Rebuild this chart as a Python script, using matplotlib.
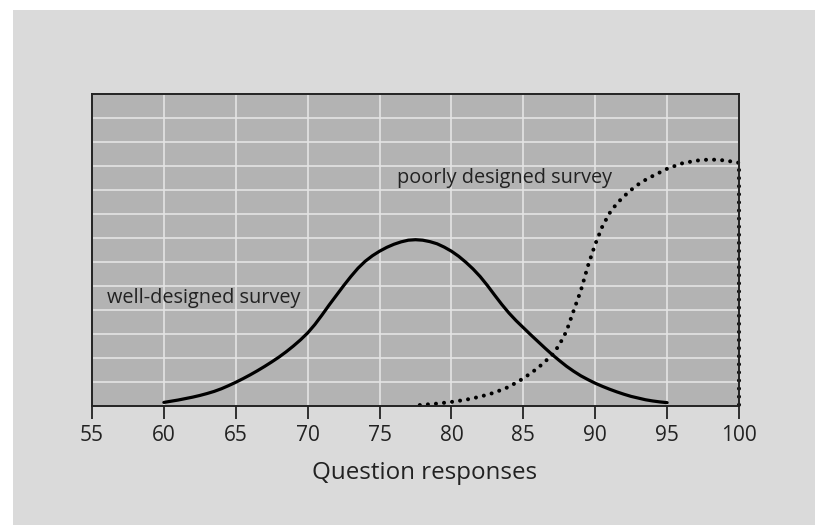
import matplotlib
matplotlib.use("Agg")
import matplotlib.pyplot as plt
from matplotlib.patches import Rectangle

plt.rcParams["font.family"] = ["Open Sans", "DejaVu Sans"]

# ── Data ────────────────────────────────────────────────────────────
well_x = [60, 60.5, 61, 61.5, 62, 62.5, 63, 63.5, 64, 64.5, 65, 65.5, 66,
          66.5, 67, 67.5, 68, 68.5, 69, 69.5, 70, 70.5, 71, 71.5, 72, 72.5,
          73, 73.5, 74, 74.5, 75, 75.5, 76, 76.5, 77, 77.5, 78, 78.5, 79,
          79.5, 80, 80.5, 81, 81.5, 82, 82.5, 83, 83.5, 84, 84.5, 85, 85.5,
          86, 86.5, 87, 87.5, 88, 88.5, 89, 89.5, 90, 90.5, 91, 91.5, 92,
          92.5, 93, 93.5, 94, 94.5, 95]
well_y = [0.15, 0.2, 0.25, 0.31, 0.37, 0.44, 0.52, 0.61, 0.72, 0.85, 0.99,
          1.14, 1.3, 1.47, 1.65, 1.84, 2.04, 2.26, 2.5, 2.76, 3.05, 3.4, 3.8,
          4.22, 4.62, 5.02, 5.4, 5.75, 6.04, 6.27, 6.46, 6.62, 6.75, 6.85,
          6.92, 6.94, 6.92, 6.86, 6.77, 6.63, 6.46, 6.25, 6.0, 5.72, 5.4,
          5.03, 4.63, 4.24, 3.88, 3.56, 3.27, 2.98, 2.7, 2.42, 2.15, 1.9,
          1.66, 1.45, 1.26, 1.1, 0.95, 0.82, 0.7, 0.59, 0.49, 0.4, 0.33,
          0.26, 0.21, 0.17, 0.14]

poor_x = [77.8, 79, 80, 81, 82, 83, 84, 85, 86, 87, 87.5, 88, 88.5, 89,
          89.5, 90, 90.5, 91, 91.5, 92, 92.5, 93, 93.5, 94, 95, 96, 97, 98,
          99, 99.5, 100, 100]
poor_y = [0.04, 0.1, 0.17, 0.26, 0.39, 0.56, 0.8, 1.15, 1.58, 2.12, 2.55,
          3.12, 3.98, 4.82, 5.86, 6.75, 7.5, 8.05, 8.45, 8.75, 9.02, 9.25,
          9.44, 9.6, 9.9, 10.12, 10.24, 10.29, 10.25, 10.2, 10.15, 0.0]

x_ticks = [55, 60, 65, 70, 75, 80, 85, 90, 95, 100]
y_grid = list(range(0, 14))

fig = plt.figure(figsize=(8.15, 5.25), dpi=100)
fig.patch.set_facecolor("white")
fig.patches.append(Rectangle((13 / 815, 0), 1 - 13 / 815, 1 - 10 / 525,
                             transform=fig.transFigure, facecolor="#dadada",
                             edgecolor="none", zorder=-10))

ax = fig.add_axes([92 / 815, 119 / 525, 647 / 815, 311.5 / 525])
ax.set_facecolor("#b3b3b3")
ax.set_xlim(55, 100)
ax.set_ylim(0, 13)

ax.set_xticks(x_ticks)
ax.set_yticks(y_grid)
ax.set_yticklabels([])
ax.tick_params(axis="y", length=0)
ax.tick_params(axis="x", direction="out", length=9, width=1.3,
               color="#222222", labelsize=15, labelcolor="#222222", pad=5)
ax.grid(True, color="#e4e4e4", lw=1.2)
ax.set_axisbelow(True)
for s in ax.spines.values():
    s.set_color("#222222")
    s.set_linewidth(1.4)

ax.plot(well_x, well_y, color="black", lw=2.3, solid_capstyle="round",
        solid_joinstyle="round")
ax.plot(poor_x, poor_y, color="black", lw=2.9,
        linestyle=(0, (0.01, 2.0)), dash_capstyle="round", clip_on=False)

ax.text(56.06, 4.5, "well-designed survey", fontsize=14.3, color="#222222",
        ha="left", va="center")
ax.text(76.24, 9.53, "poorly designed survey", fontsize=14.3, color="#222222",
        ha="left", va="center")

ax.set_xlabel("Question responses", fontsize=17.4, color="#222222")
ax.xaxis.set_label_coords(0.514, -0.175)

plt.savefig("out.png", dpi=100)
